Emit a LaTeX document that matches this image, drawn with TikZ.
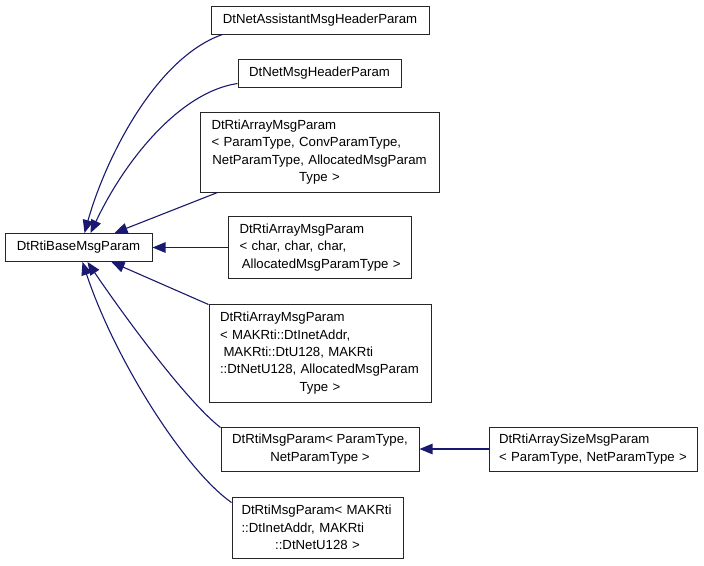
\documentclass[tikz,border=0pt]{standalone}
\usepackage{fontspec}
\setmainfont{Liberation Sans}
\usetikzlibrary{arrows.meta}
\definecolor{edgeblue}{RGB}{25,25,112}
\newcommand\dxc[1]{\makebox[\linewidth][c]{#1}}
\begin{document}
\begin{tikzpicture}[x=1pt,y=-1pt,
  box/.style={draw=black!85, line width=1pt, fill=white, inner sep=0pt,
    font=\fontsize{13.2}{17.4}\selectfont, align=center},
  lbox/.style={box, align=left},
  edge/.style={draw=edgeblue, line width=1.1pt,
    -{Triangle[length=13pt,width=10.5pt]}, fill=none},
]
\fill[white] (0,0) rectangle (704,565);
\useasboundingbox (0,0) rectangle (704,565);

\node[box, minimum width=147pt, minimum height=28pt] (base) at (78.5,247.5) {DtRtiBaseMsgParam};

\node[box, minimum width=218pt, minimum height=28pt] (n1) at (320,20) {DtNetAssistantMsgHeaderParam};
\node[box, minimum width=163pt, minimum height=28pt] (n2) at (319.5,73) {DtNetMsgHeaderParam};
\node[lbox, text width=216pt, minimum width=239pt, minimum height=80pt] (n3) at (319.5,152)
  {DtRtiArrayMsgParam\\ < ParamType, ConvParamType,\\ \dxc{NetParamType, AllocatedMsgParam}\\ \dxc{Type >}};
\node[lbox, text width=160pt, minimum width=183pt, minimum height=62pt] (n4) at (319.5,247.5)
  {DtRtiArrayMsgParam\\ < char, char, char,\\ \dxc{\hspace*{3.5pt}AllocatedMsgParamType >}};
\node[lbox, text width=200pt, minimum width=222pt, minimum height=98pt] (n5) at (320,353)
  {DtRtiArrayMsgParam\\ < MAKRti::DtInetAddr,\\ \hspace*{3.5pt}MAKRti::DtU128, MAKRti\\ ::DtNetU128, AllocatedMsgParam\\ \dxc{Type >}};
\node[box, minimum width=198pt, minimum height=44pt] (n6) at (320,449)
  {DtRtiMsgParam< ParamType,\\ NetParamType >};
\node[lbox, text width=188pt, minimum width=208pt, minimum height=44pt] (n7) at (593,449)
  {DtRtiArraySizeMsgParam\\ < ParamType, NetParamType >};
\node[lbox, text width=152pt, minimum width=171pt, minimum height=61pt] (n8) at (317.5,527.5)
  {DtRtiMsgParam< MAKRti\\ ::DtInetAddr, MAKRti\\ \dxc{::DtNetU128 >}};

\draw[edge] ([xshift=12pt]n1.south west) .. controls (155,58) and (105,160) .. ([xshift=80pt]base.north west);
\draw[edge] ([yshift=4pt]n2.south west) .. controls (180,92) and (125,160) .. ([xshift=86pt]base.north west);
\draw[edge] ([xshift=18pt]n3.south west) -- ([xshift=110pt]base.north west);
\draw[edge] (n4.west) -- (base.east);
\draw[edge] ([yshift=-1pt]n5.north west) -- ([xshift=107pt]base.south west);
\draw[edge] ([yshift=-1pt]n6.north west) .. controls (185,400) and (120,310) .. ([xshift=83pt]base.south west);
\draw[edge] (n7.west) -- (n6.east);
\draw[edge] ([yshift=-6pt]n8.north west) .. controls (185,470) and (115,360) .. ([xshift=78pt]base.south west);
\end{tikzpicture}
\end{document}
